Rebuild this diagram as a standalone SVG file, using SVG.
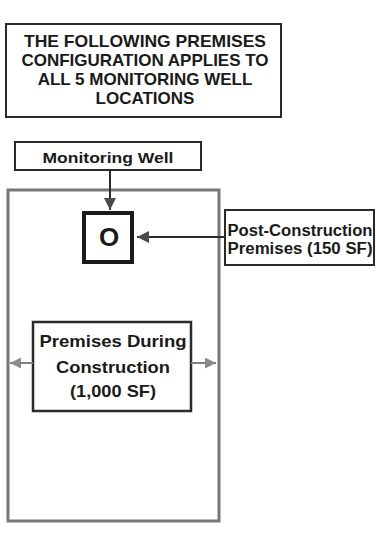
<svg xmlns="http://www.w3.org/2000/svg" width="376" height="544" viewBox="0 0 376 544">
<defs>
<style>
.t{font-family:"Liberation Sans",Arial,Helvetica,sans-serif;font-weight:bold;fill:#1a1a1a;text-anchor:middle}
.box{fill:#fff;stroke:#2a2a2a;stroke-width:2}
.dk{stroke:#2a2a2a;stroke-width:2;fill:none}
.gr{stroke:#808080;stroke-width:2;fill:none}
</style>
<marker id="ahD" viewBox="0 0 12 12" refX="12" refY="6" markerWidth="12" markerHeight="12" markerUnits="userSpaceOnUse" orient="auto">
<path d="M0,0 L12,6 L0,12 Z" fill="#4a4a4a"/>
</marker>
<marker id="ahG" viewBox="0 0 12 12" refX="12" refY="6" markerWidth="12" markerHeight="11" markerUnits="userSpaceOnUse" orient="auto">
<path d="M0,0 L12,6 L0,12 Z" fill="#8a8a8a"/>
</marker>
</defs>
<rect width="376" height="544" fill="#fff"/>

<g id="title">
<rect class="box" x="6" y="24" width="275" height="93"/>
<text class="t" font-size="17" x="145" y="47" textLength="242" lengthAdjust="spacingAndGlyphs">THE FOLLOWING PREMISES</text>
<text class="t" font-size="17" x="145" y="66">CONFIGURATION APPLIES TO</text>
<text class="t" font-size="17" x="145" y="85">ALL 5 MONITORING WELL</text>
<text class="t" font-size="17" x="145" y="104">LOCATIONS</text>
</g>

<g id="construction-area">
<rect x="8" y="190" width="211" height="331" fill="none" stroke="#777" stroke-width="3"/>
</g>

<g id="monitoring-well-label">
<rect class="box" x="15" y="142" width="186" height="28"/>
<text class="t" font-size="15" x="108" y="163" textLength="131" lengthAdjust="spacingAndGlyphs">Monitoring Well</text>
</g>

<g id="well">
<rect x="84" y="213" width="48" height="49" fill="#fff" stroke="#1a1a1a" stroke-width="4"/>
<text class="t" font-size="26" x="109" y="246">O</text>
</g>

<g id="post-construction">
<rect class="box" x="225" y="210" width="149" height="55"/>
<text class="t" font-size="16" x="300" y="236" textLength="145" lengthAdjust="spacingAndGlyphs">Post-Construction</text>
<text class="t" font-size="16" x="300" y="254" textLength="145" lengthAdjust="spacingAndGlyphs">Premises (150 SF)</text>
</g>

<g id="during-construction">
<rect x="33" y="322" width="158" height="89" fill="#fff" stroke="#2a2a2a" stroke-width="2.5"/>
<text class="t" font-size="16.5" x="113" y="347" textLength="147" lengthAdjust="spacingAndGlyphs">Premises During</text>
<text class="t" font-size="16.5" x="113" y="373" textLength="114" lengthAdjust="spacingAndGlyphs">Construction</text>
<text class="t" font-size="16.5" x="113" y="397" textLength="86" lengthAdjust="spacingAndGlyphs">(1,000 SF)</text>
</g>

<g id="connectors">
<line class="dk" x1="110" y1="170" x2="110" y2="210" marker-end="url(#ahD)"/>
<line class="dk" x1="225" y1="237" x2="137" y2="237" marker-end="url(#ahD)"/>
<line class="gr" x1="33" y1="363" x2="10" y2="363" marker-end="url(#ahG)"/>
<line class="gr" x1="191" y1="363" x2="216" y2="363" marker-end="url(#ahG)"/>
</g>
</svg>
